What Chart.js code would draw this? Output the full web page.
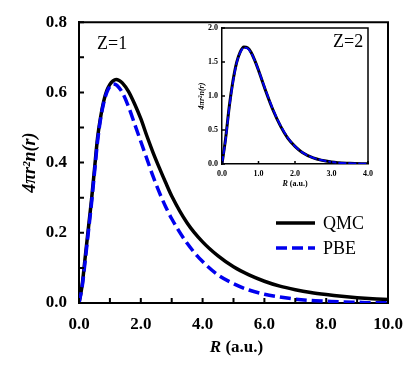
<!DOCTYPE html>
<html>
<head>
<meta charset="utf-8">
<script src="https://cdn.jsdelivr.net/npm/chart.js@4.4.0/dist/chart.umd.min.js"></script>
<style>
    body { margin: 0; background: #fff; }
    #wrap { position: relative; width: 416px; height: 369px; }
    #inset { position: absolute; left: 190px; top: 15px; }
</style>
</head>
<body>
<div id="wrap">
    <canvas id="main" width="416" height="369"></canvas>
    <canvas id="inset" width="188" height="180"></canvas>
</div>
<script>

// Z=1 (main panel)
const rMain   = [0, 0.1, 0.2, 0.3, 0.4, 0.5, 0.6, 0.7, 0.8, 0.9, 1.0, 1.1, 1.2, 1.3, 1.4, 1.6, 1.8, 2.0, 2.2, 2.4, 2.6, 2.8, 3.0, 3.5, 4.0, 4.5, 5.0, 5.5, 6.0, 6.5, 7.0, 7.5, 8.0, 8.5, 9.0, 9.5, 10.0]
const qmcMain = [0, 0.05, 0.13, 0.21, 0.29, 0.38, 0.47, 0.53, 0.575, 0.605, 0.623, 0.633, 0.637, 0.634, 0.627, 0.603, 0.567, 0.525, 0.475, 0.428, 0.385, 0.344, 0.305, 0.228, 0.174, 0.134, 0.103, 0.08, 0.062, 0.048, 0.038, 0.030, 0.024, 0.019, 0.015, 0.012, 0.010]
const pbeMain = [0, 0.045, 0.12, 0.20, 0.28, 0.37, 0.46, 0.525, 0.57, 0.60, 0.617, 0.624, 0.622, 0.613, 0.60, 0.56, 0.51, 0.46, 0.41, 0.36, 0.315, 0.275, 0.24, 0.17, 0.118, 0.08, 0.055, 0.037, 0.025, 0.017, 0.011, 0.007, 0.005, 0.003, 0.002, 0.001, 0.001]

// Z=2 (inset)
const rInset   = [0, 0.1, 0.2, 0.3, 0.4, 0.5, 0.6, 0.7, 0.8, 0.9, 1.0, 1.2, 1.4, 1.6, 1.8, 2.0, 2.2, 2.5, 3.0, 3.5, 4.0]
const qmcInset = [0, 0.38, 0.85, 1.22, 1.49, 1.65, 1.72, 1.71, 1.64, 1.52, 1.38, 1.07, 0.79, 0.56, 0.38, 0.26, 0.17, 0.09, 0.03, 0.01, 0.003]
const pbeInset = [0, 0.36, 0.83, 1.20, 1.48, 1.64, 1.71, 1.70, 1.63, 1.52, 1.38, 1.08, 0.80, 0.57, 0.39, 0.26, 0.17, 0.09, 0.03, 0.01, 0.003]

const seriesNames = ['QMC', 'PBE']
const xTitleItalic = 'R'
const xTitleRest = ' (a.u.)'
const yTitle = '4πr²n(r)'

const serif = '"Times New Roman", "Liberation Serif", serif'

const toPoints = (xs, ys) => xs.map((x, i) => ({ x: x, y: ys[i] }))

// frame, inward ticks, axis titles and labels drawn with the chart's own scales
function decoPlugin(opt) {
    return {
        id: 'deco',
        afterDraw(chart) {
            const ctx = chart.ctx
            const a = chart.chartArea
            const xs = chart.scales.x
            const ys = chart.scales.y
            ctx.save()
            ctx.strokeStyle = '#000'
            ctx.lineWidth = opt.frameWidth
            ctx.beginPath()
            ctx.moveTo(a.left, a.top)
            ctx.lineTo(a.right, a.top)
            ctx.lineTo(a.right, a.bottom)
            ctx.stroke()

            ctx.lineWidth = opt.tickWidth
            ctx.beginPath()
            for (let v = xs.min; v <= xs.max + 1e-9; v += opt.xTick) {
                const px = xs.getPixelForValue(v)
                ctx.moveTo(px, a.bottom)
                ctx.lineTo(px, a.bottom - opt.tickLen)
            }
            for (let v = ys.min; v <= ys.max + 1e-9; v += opt.yTick) {
                const py = ys.getPixelForValue(v)
                ctx.moveTo(a.left, py)
                ctx.lineTo(a.left + opt.tickLen, py)
            }
            ctx.stroke()

            ctx.fillStyle = '#000'
            ctx.textBaseline = 'alphabetic'

            // x title: italic R + bold rest
            const fi = 'italic bold ' + opt.titleSize + 'px ' + serif
            const fb = 'bold ' + opt.titleSize + 'px ' + serif
            ctx.font = fi
            const w1 = ctx.measureText(xTitleItalic).width
            ctx.font = fb
            const w2 = ctx.measureText(xTitleRest).width
            const cx = (a.left + a.right) / 2 + opt.xTitleShift
            ctx.font = fi
            ctx.textAlign = 'left'
            ctx.fillText(xTitleItalic, cx - (w1 + w2) / 2, opt.xTitleY)
            ctx.font = fb
            ctx.fillText(xTitleRest, cx - (w1 + w2) / 2 + w1, opt.xTitleY)

            // y title
            ctx.save()
            ctx.translate(opt.yTitleX, (a.top + a.bottom) / 2)
            ctx.rotate(-Math.PI / 2)
            ctx.font = 'italic bold ' + opt.yTitleSize + 'px ' + serif
            ctx.textAlign = 'center'
            ctx.textBaseline = 'middle'
            ctx.fillText(yTitle, 0, 0)
            ctx.restore()

            // panel label
            ctx.font = opt.labelSize + 'px ' + serif
            ctx.textAlign = 'left'
            ctx.fillText(opt.label, opt.labelX, opt.labelY)

            if (opt.legend) {
                chart.data.datasets.forEach((ds, i) => {
                    const ly = opt.legend.y + i * opt.legend.gap
                    ctx.strokeStyle = ds.borderColor
                    ctx.lineWidth = ds.borderWidth
                    ctx.setLineDash(ds.borderDash || [])
                    ctx.beginPath()
                    ctx.moveTo(opt.legend.x, ly)
                    ctx.lineTo(opt.legend.x + opt.legend.len, ly)
                    ctx.stroke()
                    ctx.setLineDash([])
                    ctx.font = opt.legend.size + 'px ' + serif
                    ctx.textBaseline = 'middle'
                    ctx.fillText(ds.label, opt.legend.x + opt.legend.len + 8, ly + 1)
                })
            }
            ctx.restore()
        }
    }
}

function tickOpts(step, pad, size, cb) {
    return {
        stepSize: step,
        padding: pad,
        color: '#000',
        autoSkip: false,
        maxRotation: 0,
        minRotation: 0,
        font: { family: serif, size: size, weight: 'bold' },
        callback: cb
    }
}

// Main chart
const mainCtx = document.getElementById('main')
const mainChart = new Chart(mainCtx, {
    type: 'line',
    data: {
        datasets: [
            {
                label: seriesNames[0],
                data: toPoints(rMain, qmcMain),
                borderColor: '#000000',
                borderWidth: 3.5,
                pointRadius: 0,
                cubicInterpolationMode: 'monotone',
                order: 2
            },
            {
                label: seriesNames[1],
                data: toPoints(rMain, pbeMain),
                borderColor: '#0000ee',
                borderWidth: 3.5,
                borderDash: [11, 5],
                pointRadius: 0,
                cubicInterpolationMode: 'monotone',
                order: 1
            }
        ]
    },
    options: {
        responsive: false,
        animation: false,
        layout: { padding: { top: 16, right: 28, left: 0, bottom: 0 } },
        plugins: { legend: { display: false }, tooltip: { enabled: false } },
        scales: {
            x: {
                type: 'linear',
                min: 0,
                max: 10,
                grid: { display: false, drawTicks: false },
                border: { display: true, color: '#000', width: 2 },
                ticks: tickOpts(1, 11, 17, (v) => (Math.round(v) % 2 === 0 ? v.toFixed(1) : '')),
                afterFit: (scale) => { scale.height = 66 }
            },
            y: {
                min: 0,
                max: 0.8,
                grid: { display: false, drawTicks: false },
                border: { display: true, color: '#000', width: 2 },
                ticks: tickOpts(0.1, 12, 17, (v) => (Math.round(v * 10) % 2 === 0 ? v.toFixed(1) : '')),
                afterFit: (scale) => { scale.width = 79 }
            }
        }
    },
    plugins: [decoPlugin({
        frameWidth: 2, tickWidth: 2, tickLen: 5, xTick: 1, yTick: 0.1,
        titleSize: 17, xTitleY: 352, xTitleShift: 3,
        yTitleX: 30, yTitleSize: 18,
        label: 'Z=1', labelSize: 18, labelX: 97, labelY: 49,
        legend: { x: 276, y: 223, gap: 25, len: 39, size: 18 }
    })]
})

// Inset chart
const insetCtx = document.getElementById('inset')
const insetChart = new Chart(insetCtx, {
    type: 'line',
    data: {
        datasets: [
            {
                label: seriesNames[0],
                data: toPoints(rInset, qmcInset),
                borderColor: '#000000',
                borderWidth: 3,
                pointRadius: 0,
                cubicInterpolationMode: 'monotone',
                order: 2
            },
            {
                label: seriesNames[1],
                data: toPoints(rInset, pbeInset),
                borderColor: '#0000ee',
                borderWidth: 2,
                borderDash: [8, 2],
                pointRadius: 0,
                cubicInterpolationMode: 'monotone',
                order: 1
            }
        ]
    },
    options: {
        responsive: false,
        animation: false,
        layout: { padding: { top: 13, right: 8, left: 0, bottom: 0 } },
        plugins: { legend: { display: false }, tooltip: { enabled: false } },
        scales: {
            x: {
                type: 'linear',
                min: 0,
                max: 4,
                grid: { display: false, drawTicks: false },
                border: { display: true, color: '#000', width: 1.5 },
                ticks: tickOpts(1, 5, 8, (v) => v.toFixed(1)),
                afterFit: (scale) => { scale.height = 31 }
            },
            y: {
                min: 0,
                max: 2,
                grid: { display: false, drawTicks: false },
                border: { display: true, color: '#000', width: 1.5 },
                ticks: tickOpts(0.5, 4, 8, (v) => v.toFixed(1)),
                afterFit: (scale) => { scale.width = 32 }
            }
        }
    },
    plugins: [decoPlugin({
        frameWidth: 1.5, tickWidth: 1.5, tickLen: 3, xTick: 1, yTick: 0.5,
        titleSize: 8, xTitleY: 171, xTitleShift: 0,
        yTitleX: 12, yTitleSize: 8,
        label: 'Z=2', labelSize: 18, labelX: 143, labelY: 32,
        legend: null
    })]
})

</script>
</body>
</html>
